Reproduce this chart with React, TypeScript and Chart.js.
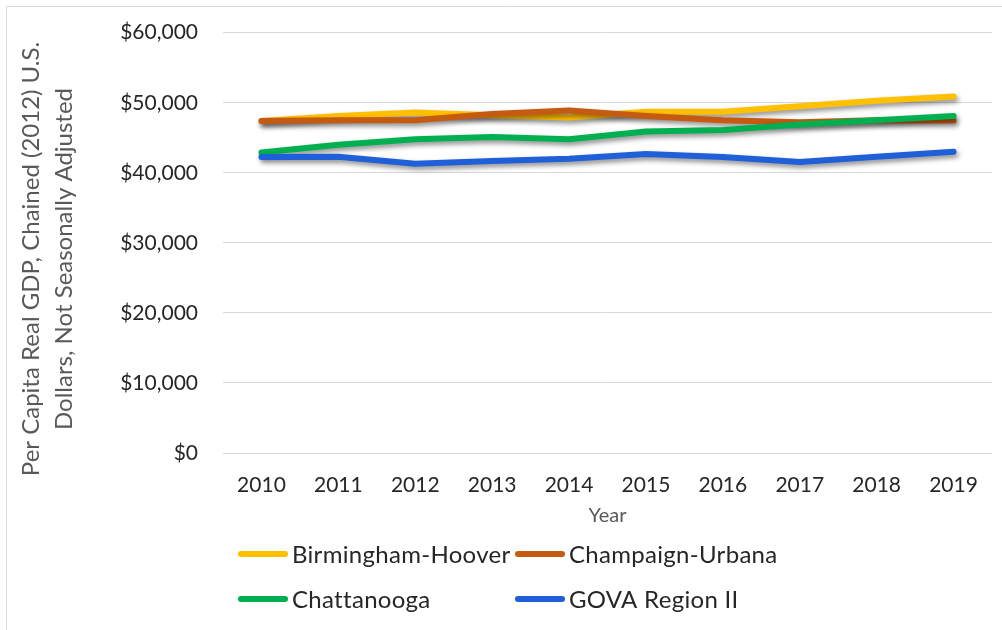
import React, { useEffect, useRef } from "react";
import { Chart, registerables } from "chart.js";

Chart.register(...registerables);

const years = ["2010", "2011", "2012", "2013", "2014", "2015", "2016", "2017", "2018", "2019"];
const birminghamHoover = [47400, 48100, 48600, 48200, 47900, 48700, 48700, 49500, 50300, 50900];
const champaignUrbana = [47400, 47500, 47500, 48400, 48900, 48100, 47500, 47200, 47500, 47450];
const chattanooga = [42900, 44000, 44800, 45100, 44800, 45900, 46100, 46900, 47500, 48100];
const govaRegionII = [42250, 42300, 41300, 41700, 42000, 42700, 42250, 41550, 42300, 43000];
const seriesNames = ["Birmingham-Hoover", "Champaign-Urbana", "Chattanooga", "GOVA Region II"];
const seriesColors = ["#FFC000", "#C55A11", "#00B050", "#1F5FD8"];
const yTitleLines = ["Per Capita Real GDP, Chained (2012) U.S.", "Dollars, Not Seasonally Adjusted"];
const xTitle = "Year";

const FONT = "Lato, 'Open Sans', sans-serif";

export default function App() {
  const ref = useRef<HTMLCanvasElement>(null);
  useEffect(() => {
    const canvas = ref.current!;
    const seriesValues = [birminghamHoover, champaignUrbana, chattanooga, govaRegionII];

    const shadowPlugin = {
      id: "shadow",
      beforeDatasetDraw(chart: any) {
        const ctx = chart.ctx;
        ctx.save();
        ctx.shadowColor = "rgba(0,0,0,0.45)";
        ctx.shadowBlur = 5;
        ctx.shadowOffsetX = 2;
        ctx.shadowOffsetY = 3;
      },
      afterDatasetDraw(chart: any) {
        chart.ctx.restore();
      },
    };

    const decorPlugin = {
      id: "decor",
      afterDraw(chart: any) {
        const ctx = chart.ctx;
        ctx.save();
        ctx.strokeStyle = "#d9d9d9";
        ctx.lineWidth = 1;
        ctx.beginPath();
        ctx.moveTo(6.5, 640);
        ctx.lineTo(6.5, 6.5);
        ctx.lineTo(1010, 6.5);
        ctx.stroke();
        ctx.fillStyle = "#595959";
        ctx.font = `24px ${FONT}`;
        ctx.textAlign = "center";
        ctx.textBaseline = "middle";
        ctx.translate(0, 259);
        ctx.rotate(-Math.PI / 2);
        ctx.fillText(yTitleLines[0], 0, 31.5);
        ctx.fillText(yTitleLines[1], 0, 64);
        ctx.restore();

        ctx.save();
        ctx.font = `24px ${FONT}`;
        try { (ctx as any).letterSpacing = "0.3px"; } catch (e) {}
        ctx.textBaseline = "middle";
        ctx.textAlign = "left";
        chart.data.datasets.forEach((ds: any, i: number) => {
          const col = i % 2;
          const row = Math.floor(i / 2);
          const x0 = 238 + col * 277;
          const y0 = 554 + row * 45;
          ctx.strokeStyle = ds.borderColor;
          ctx.lineWidth = 6;
          ctx.lineCap = "round";
          ctx.beginPath();
          ctx.moveTo(x0 + 3, y0);
          ctx.lineTo(x0 + 47, y0);
          ctx.stroke();
          ctx.fillStyle = "#262626";
          ctx.fillText(ds.label, x0 + 54, y0 + 1);
        });
        ctx.restore();
      },
    };

    const chart = new Chart(canvas, {
      type: "line",
      data: {
        labels: years,
        datasets: seriesValues.map((vals, i) => ({
          label: seriesNames[i],
          data: vals,
          borderColor: seriesColors[i],
          backgroundColor: seriesColors[i],
          borderWidth: 6,
          pointRadius: 0,
          tension: 0,
          borderCapStyle: "round",
          borderJoinStyle: "round",
          order: 4 - i,
        })),
      },
      options: {
        animation: false,
        responsive: false,
        maintainAspectRatio: false,
        layout: { padding: { top: 32.7, right: 10, bottom: 102, left: 0 } },
        plugins: { legend: { display: false }, tooltip: { enabled: false } },
        scales: {
          x: {
            offset: true,
            grid: { display: false, drawTicks: false },
            border: { display: false },
            ticks: { color: "#262626", font: { family: FONT, size: 21 }, padding: 20, maxRotation: 0 },
            title: { display: true, text: xTitle, color: "#595959", font: { family: FONT, size: 20 }, padding: { top: 4, bottom: 0 } },
            afterFit(s: any) { s.height = 75; s.paddingLeft = 0; s.paddingRight = 0; },
          },
          y: {
            min: 0,
            max: 60000,
            ticks: {
              stepSize: 10000,
              color: "#262626",
              font: { family: FONT, size: 21 },
              padding: 25,
              callback: (v: any) => "$" + Number(v).toLocaleString("en-US"),
            },
            grid: { color: "#d9d9d9", lineWidth: 1, drawTicks: false },
            border: { display: false },
            afterFit(s: any) { s.width = 223; s.paddingTop = 0; s.paddingBottom = 0; },
          },
        },
      },
      plugins: [shadowPlugin, decorPlugin],
    });
    return () => chart.destroy();
  }, []);
  return (
    <div style={{ position: "fixed", left: 0, top: 0, width: 1002, height: 630, background: "#fff" }}>
      <canvas ref={ref} width={1002} height={630} style={{ width: 1002, height: 630 }} />
    </div>
  );
}
